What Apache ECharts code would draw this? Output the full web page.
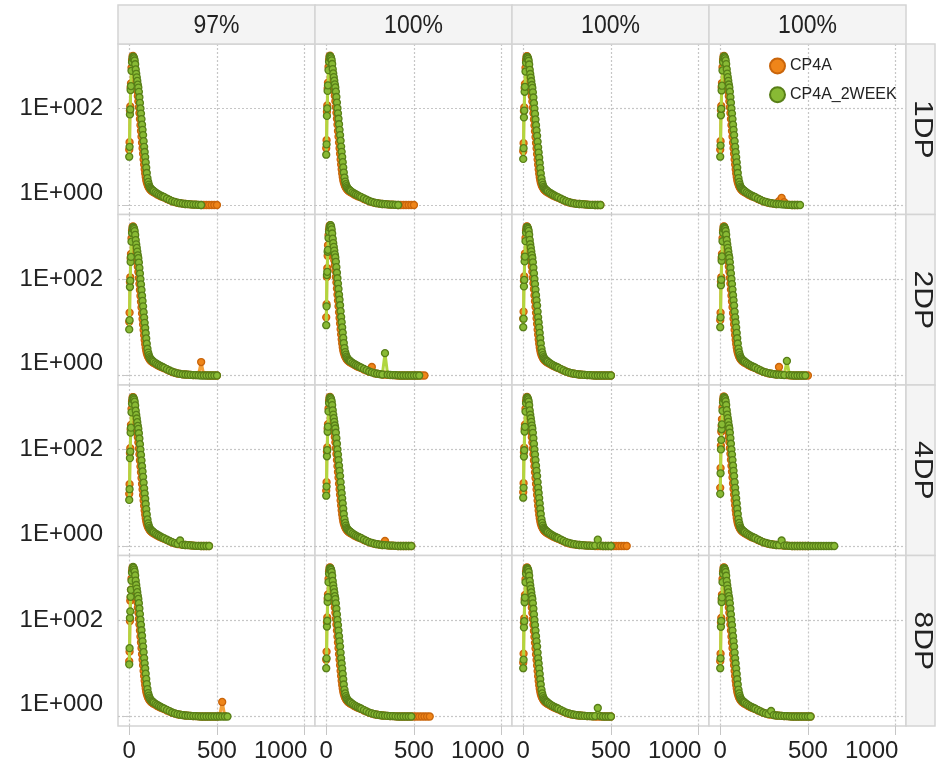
<!DOCTYPE html>
<html>
<head>
<meta charset="utf-8">
<script src="https://cdn.jsdelivr.net/npm/echarts@6/dist/echarts.min.js"></script>
<style>
html, body { margin: 0; padding: 0; background: #ffffff; }
#chart { width: 945px; height: 766px; }
</style>
</head>
<body>
<div id="chart"></div>
<script>
// Facet labels
const columnLabels = ['97%', '100%', '100%', '100%'];
const rowLabels = ['1DP', '2DP', '4DP', '8DP'];
const seriesNames = ['CP4A', 'CP4A_2WEEK'];

// Tick values
const xTickValues = [0, 500, 1000];
const yTickValues = [1, 100];

// Shared x positions (bin centres) used by every series
const bins = [0, 2, 4, 6, 8, 10,
  13, 16, 19, 22, 25, 28, 31, 34, 37, 40, 43, 46, 49, 52, 55, 58, 61, 64, 67, 70,
  73, 76, 79, 82, 85, 88, 91, 94, 97, 100,
  104, 108, 112, 116, 120, 125, 130, 135, 140,
  150, 160, 170, 180, 190, 200,
  215, 230, 245, 260, 275, 290, 305, 320, 335, 350, 365, 380, 395, 410, 425,
  440, 455, 470, 485, 500, 515, 530, 545, 560, 575, 590, 605, 620, 635, 650, 665];

// ---- 1DP ----
const cp4a_1dp_c1 = [14,20,90,110,270,330,700,1000,1200,1220,1100,940,760,580,450,360,290,230,180,140,105,80,60,45,34,26,19.5,15,11.5,8.8,6.9,5.5,4.5,3.8,3.3,2.95,2.65,2.45,2.3,2.18,2.08,2,1.94,1.88,1.83,1.74,1.65,1.58,1.52,1.47,1.42,
  1.33,1.26,1.19,1.15,1.11,1.09,1.07,1.05,1.04,1.03,1.02,1.02,1.01,1,1,1,1,1,1,1];
const week2_1dp_c1 = [10,16,75,95,240,290,600,900,1100,1180,1150,1080,980,820,640,520,440,370,310,270,220,170,130,100,78,60,46,36,28,21,16,12.5,9.8,7.6,5.9,4.6,3.6,3,2.65,2.4,2.25,2.15,2.06,2,1.93,1.82,1.72,1.64,1.57,1.5,1.45,
  1.36,1.28,1.2,1.16,1.12,1.09,1.07,1.05,1.04,1.03,1.02,1.02,1.01,1];
const cp4a_1dp_c2 = [15,22,85,115,260,340,720,1010,1210,1230,1110,950,770,590,455,365,292,232,182,141,106,81,61,46,34,26,19.6,15,11.5,8.8,6.9,5.5,4.5,3.8,3.3,2.95,2.65,2.45,2.3,2.18,2.08,2,1.94,1.88,1.83,1.74,1.65,1.58,1.52,1.47,1.42,
  1.33,1.26,1.19,1.15,1.11,1.09,1.07,1.05,1.04,1.03,1.02,1.02,1.01,1,1,1,1,1,1,1];
const week2_1dp_c2 = [11,18,70,100,230,300,620,920,1120,1200,1160,1090,990,830,650,530,445,375,315,272,222,172,132,101,79,61,47,36,28,21.5,16.2,12.6,9.9,7.7,6,4.7,3.7,3.05,2.7,2.45,2.28,2.16,2.07,2,1.94,1.83,1.73,1.65,1.58,1.51,1.46,
  1.37,1.29,1.21,1.16,1.12,1.09,1.07,1.05,1.04,1.03,1.02,1.02,1.01,1];
const cp4a_1dp_c3 = [13,19,88,105,265,320,690,990,1190,1210,1090,930,752,574,446,356,287,228,178,139,104,79,59,44,33.5,25.5,19.2,14.8,11.3,8.7,6.8,5.45,4.45,3.75,3.28,2.93,2.63,2.43,2.29,2.17,2.07,1.99,1.93,1.87,1.82,1.73,1.64,1.57,1.51,1.46,1.41,
  1.32,1.25,1.18,1.14,1.1,1.08,1.06,1.05,1.04,1.03,1.02,1.01,1.01,1,1,1];
const week2_1dp_c3 = [9,15,65,90,220,280,580,880,1090,1170,1140,1070,970,810,630,515,435,365,305,265,215,168,128,99,77,59,45,35,27,20.5,15.6,12.2,9.5,7.4,5.8,4.5,3.55,2.95,2.6,2.38,2.23,2.13,2.05,1.98,1.92,1.81,1.71,1.63,1.56,1.49,1.44,
  1.35,1.27,1.2,1.15,1.11,1.08,1.06,1.05,1.04,1.03,1.02,1.01,1.01,1,1,1];
const cp4a_1dp_c4 = [14,21,92,112,275,335,710,1005,1205,1215,1095,935,757,578,448,358,289,229,179,140,105,80,60,45,34,26,19.5,15,11.5,8.8,6.9,5.5,4.5,3.8,3.3,2.95,2.65,2.45,2.3,2.18,2.08,2,1.94,1.88,1.83,1.74,1.65,1.58,1.52,1.47,1.42,
  1.33,1.26,1.19,1.15,1.11,1.09,1.07,1.05,1.2,1.4,1.15,1.02,1.01,1,1,1];
const week2_1dp_c4 = [10,17,72,98,235,295,610,910,1110,1190,1150,1085,985,825,645,525,442,372,312,271,221,171,131,100,78,60,46,36,28,21,16,12.4,9.7,7.6,5.9,4.6,3.6,3,2.65,2.4,2.25,2.15,2.06,2,1.93,1.82,1.72,1.64,1.57,1.5,1.45,
  1.36,1.28,1.2,1.16,1.12,1.09,1.07,1.05,1.04,1.03,1.02,1.02,1.01,1,1,1,1];

// ---- 2DP ----
const cp4a_2dp_c1 = [13,20,86,108,268,328,695,995,1195,1215,1095,935,756,577,447,357,288,229,179,139,104,79,59,44.5,33.5,25.6,19.3,14.8,11.4,8.7,6.8,5.45,4.45,3.77,3.28,2.93,2.63,2.44,2.29,2.17,2.07,1.99,1.93,1.87,1.82,1.73,1.64,1.57,1.51,1.46,1.41,
  1.32,1.25,1.18,1.14,1.1,1.08,1.06,1.05,1.04,1.03,1.02,1.02,1.03,1.9,1.02,1.01,1,1,1,1];
const week2_2dp_c1 = [9,14,68,92,225,285,590,890,1100,1175,1145,1075,975,815,635,518,438,368,308,268,218,169,129,99,77,59,45,35,27,20.5,15.8,12.3,9.6,7.5,5.85,4.55,3.58,2.98,2.63,2.39,2.24,2.14,2.05,1.99,1.92,1.81,1.71,1.63,1.56,1.5,1.44,
  1.35,1.27,1.2,1.15,1.11,1.08,1.06,1.05,1.04,1.03,1.02,1.02,1.01,1,1,1,1,1,1,1];
const cp4a_2dp_c2 = [16,30,110,166,300,500,800,1050,1250,1300,1180,1000,810,615,475,380,305,242,190,147,110,84,63,47,35.5,27,20.3,15.5,11.9,9.1,7.1,5.6,4.6,3.85,3.35,3,2.68,2.47,2.32,2.2,2.1,2.02,1.95,1.89,1.84,1.75,1.66,1.58,1.52,1.47,1.42,
  1.33,1.26,1.19,1.5,1.11,1.09,1.07,1.05,1.04,1.03,1.02,1.02,1.01,1,1,1,1,1,1,1,1,1,1,1];
const week2_2dp_c2 = [11,27,120,140,365,400,700,950,1150,1250,1300,1200,1060,870,680,550,460,385,322,278,226,175,134,103,80,62,47,37,28.5,21.5,16.3,12.7,9.9,7.7,6,4.7,3.7,3.05,2.7,2.45,2.28,2.16,2.07,2,1.94,1.83,1.73,1.65,1.58,1.51,1.46,
  1.37,1.29,1.21,1.16,1.12,1.09,1.07,1.05,2.9,1.04,1.03,1.02,1.02,1.01,1,1,1,1,1,1,1,1];
const cp4a_2dp_c3 = [15,21,92,112,280,335,705,1010,1205,1225,1105,945,765,585,453,362,292,232,181,141,106,81,61,45.5,34.5,26.3,19.8,15.2,11.7,8.9,7,5.55,4.55,3.82,3.32,2.96,2.66,2.46,2.31,2.19,2.09,2.01,1.95,1.89,1.84,1.75,1.66,1.59,1.53,1.48,1.43,
  1.34,1.27,1.2,1.15,1.11,1.09,1.07,1.05,1.04,1.03,1.02,1.02,1.01,1,1,1,1,1,1,1];
const week2_2dp_c3 = [10,15,70,95,230,290,605,905,1105,1185,1152,1082,982,822,642,522,441,371,311,270,220,170,130,100,78,60,46,36,28,21,16,12.5,9.8,7.6,5.9,4.6,3.6,3,2.65,2.4,2.25,2.15,2.06,2,1.93,1.82,1.72,1.64,1.57,1.5,1.45,
  1.36,1.28,1.2,1.16,1.12,1.09,1.07,1.05,1.04,1.03,1.02,1.02,1.01,1,1,1,1,1,1,1];
const cp4a_2dp_c4 = [14,20,88,108,270,330,700,1000,1200,1220,1102,945,762,582,452,361,291,231,180,140,105,80,60,45,34,26,19.5,15,11.5,8.8,6.9,5.5,4.5,3.8,3.3,2.95,2.65,2.45,2.3,2.18,2.08,2,1.94,1.88,1.83,1.74,1.65,1.58,1.52,1.47,1.42,
  1.33,1.26,1.19,1.15,1.11,1.09,1.07,1.05,1.5,1.04,1.03,1.02,1.01,1,1,1,1,1,1,1];
const week2_2dp_c4 = [10,16,74,96,238,292,602,902,1102,1182,1150,1080,980,820,640,520,440,370,310,270,220,170,130,100,78,60,46,36,28,21,16,12.5,9.8,7.6,5.9,4.6,3.6,3,2.65,2.4,2.25,2.15,2.06,2,1.93,1.82,1.72,1.64,1.57,1.5,1.45,
  1.36,1.28,1.2,1.16,1.12,1.09,1.07,1.05,1.04,1.03,1.02,2,1.02,1.01,1,1,1,1,1];

// ---- 4DP ----
const cp4a_4dp_c1 = [12,19,84,106,262,322,690,992,1192,1212,1092,932,754,575,446,356,287,228,178,139,104,79,59,44,33.5,25.5,19.2,14.8,11.3,8.7,6.8,5.45,4.45,3.75,3.28,2.93,2.63,2.43,2.29,2.17,2.07,1.99,1.93,1.87,1.82,1.73,1.64,1.57,1.51,1.46,1.41,
  1.32,1.25,1.18,1.14,1.1,1.08,1.06,1.05,1.04,1.03,1.02,1.01,1.01,1,1,1,1];
const week2_4dp_c1 = [9,15,66,90,222,282,585,885,1095,1172,1142,1072,972,812,632,516,436,366,306,266,216,168,128,99,77,59,45,35,27,20.5,15.6,12.2,9.5,7.4,5.8,4.5,3.55,2.95,2.6,2.38,2.23,2.13,2.05,1.98,1.92,1.81,1.71,1.63,1.56,1.49,1.44,
  1.35,1.27,1.2,1.15,1.11,1.3,1.06,1.05,1.04,1.03,1.02,1.01,1.01,1,1,1,1];
const cp4a_4dp_c2 = [14,21,90,110,272,332,702,1002,1202,1222,1102,942,762,582,451,361,291,231,180,140,105,80,60,45,34,26,19.5,15,11.5,8.8,6.9,5.5,4.5,3.8,3.3,2.95,2.65,2.45,2.3,2.18,2.08,2,1.94,1.88,1.83,1.74,1.65,1.58,1.52,1.47,1.42,
  1.33,1.26,1.19,1.15,1.11,1.09,1.07,1.05,1.27,1.03,1.02,1.02,1.01,1,1,1,1,1,1];
const week2_4dp_c2 = [11,17,72,97,232,296,612,912,1112,1192,1155,1085,985,825,645,525,442,372,312,271,221,171,131,100,78,60,46,36,28,21,16,12.4,9.7,7.6,5.9,4.6,3.6,3,2.65,2.4,2.25,2.15,2.06,2,1.93,1.82,1.72,1.64,1.57,1.5,1.45,
  1.36,1.28,1.2,1.16,1.12,1.09,1.07,1.05,1.04,1.03,1.02,1.02,1.01,1,1,1,1,1,1];
const cp4a_4dp_c3 = [13,20,87,108,266,326,696,996,1196,1216,1096,936,757,578,448,358,288,229,179,139,104,79,59,44.5,33.5,25.6,19.3,14.8,11.4,8.7,6.8,5.45,4.45,3.77,3.28,2.93,2.63,2.44,2.29,2.17,2.07,1.99,1.93,1.87,1.82,1.73,1.64,1.57,1.51,1.46,1.41,
  1.32,1.25,1.18,1.14,1.1,1.08,1.06,1.05,1.04,1.03,1.02,1.02,1.01,1,1,1,1,1,1,1,1,1,1,1,1,1];
const week2_4dp_c3 = [10,16,71,96,234,293,606,906,1106,1186,1151,1081,981,821,641,521,441,371,311,270,220,170,130,100,78,60,46,36,28,21,16,12.5,9.8,7.6,5.9,4.6,3.6,3,2.65,2.4,2.25,2.15,2.06,2,1.93,1.82,1.72,1.64,1.57,1.5,1.45,
  1.36,1.28,1.2,1.16,1.12,1.09,1.07,1.05,1.04,1.03,1.02,1.02,1.01,1.02,1.35,1.02,1,1,1,1];
const cp4a_4dp_c4 = [16,41,120,232,310,420,740,1040,1230,1240,1115,950,768,588,456,364,293,232,181,141,106,81,61,45.5,34.5,26.2,19.7,15.1,11.6,8.9,7,5.55,4.55,3.82,3.32,2.96,2.66,2.46,2.31,2.19,2.09,2.01,1.95,1.89,1.84,1.75,1.66,1.58,1.52,1.47,1.42,
  1.33,1.26,1.19,1.15,1.11,1.09,1.07,1.05,1.04,1.03,1.02,1.02,1.01,1,1,1,1,1,1,1];
const week2_4dp_c4 = [12,32,100,157,260,330,630,930,1130,1210,1170,1095,992,830,648,527,443,373,313,271,221,171,131,100,78,60,46,36,28,21,16,12.4,9.7,7.6,5.9,4.6,3.6,3,2.65,2.4,2.25,2.15,2.06,2,1.93,1.82,1.72,1.64,1.57,1.5,1.45,
  1.36,1.28,1.2,1.16,1.12,1.09,1.07,1.05,1.04,1.3,1.02,1.02,1.01,1,1,1,1,1,1,1,1,1,1,1,1,1,1,1,1,1];

// ---- 8DP ----
const cp4a_8dp_c1 = [14,22,95,250,290,420,720,1020,1220,1240,1115,948,766,586,454,362,291,231,180,140,105,80,60,45,34,26,19.5,15,11.5,8.8,6.9,5.5,4.5,3.8,3.3,2.95,2.65,2.45,2.3,2.18,2.08,2,1.94,1.88,1.83,1.74,1.65,1.58,1.52,1.47,1.42,
  1.33,1.26,1.19,1.15,1.11,1.09,1.07,1.05,1.04,1.03,1.02,1.02,1.01,1,1,1,1,1,1,1,1.02,2,1.02];
const week2_8dp_c1 = [12,26,110,150,300,420,650,950,1150,1250,1190,1100,995,832,650,528,444,374,314,272,222,172,132,101,79,61,47,36,28,21.5,16.2,12.6,9.9,7.7,6,4.7,3.7,3.05,2.7,2.45,2.28,2.16,2.07,2,1.94,1.83,1.73,1.65,1.58,1.51,1.46,
  1.37,1.29,1.21,1.16,1.12,1.09,1.07,1.05,1.04,1.03,1.02,1.02,1.01,1,1,1,1,1,1,1,1,1,1,1];
const cp4a_8dp_c2 = [15,22,90,112,275,336,708,1006,1206,1222,1104,943,763,583,452,361,291,231,180,140,105,80,60,45,34,26,19.5,15,11.5,8.8,6.9,5.5,4.5,3.8,3.3,2.95,2.65,2.45,2.3,2.18,2.08,2,1.94,1.88,1.83,1.74,1.65,1.58,1.52,1.47,1.42,
  1.33,1.26,1.19,1.15,1.11,1.09,1.07,1.05,1.04,1.03,1.02,1.02,1.01,1,1,1,1,1,1,1,1,1,1,1,1,1];
const week2_8dp_c2 = [10,16,73,96,236,294,605,905,1105,1185,1150,1080,980,820,640,520,440,370,310,270,220,170,130,100,78,60,46,36,28,21,16,12.5,9.8,7.6,5.9,4.6,3.6,3,2.65,2.4,2.25,2.15,2.06,2,1.93,1.82,1.72,1.64,1.57,1.5,1.45,
  1.36,1.28,1.2,1.16,1.12,1.09,1.07,1.05,1.04,1.03,1.02,1.02,1.01,1,1,1,1,1,1];
const cp4a_8dp_c3 = [13,20,88,108,268,328,698,998,1198,1218,1098,938,758,579,449,358,288,229,179,139,104,79,59,44.5,33.5,25.6,19.3,14.8,11.4,8.7,6.8,5.45,4.45,3.77,3.28,2.93,2.63,2.44,2.29,2.17,2.07,1.99,1.93,1.87,1.82,1.73,1.64,1.57,1.51,1.46,1.41,
  1.32,1.25,1.18,1.14,1.1,1.08,1.06,1.05,1.04,1.03,1.02,1.02,1.01,1,1,1,1,1,1,1];
const week2_8dp_c3 = [10,15,70,94,232,290,602,902,1102,1182,1150,1080,980,820,640,520,440,370,310,270,220,170,130,100,78,60,46,36,28,21,16,12.5,9.8,7.6,5.9,4.6,3.6,3,2.65,2.4,2.25,2.15,2.06,2,1.93,1.82,1.72,1.64,1.57,1.5,1.45,
  1.36,1.28,1.2,1.16,1.12,1.09,1.07,1.05,1.04,1.03,1.02,1.02,1.01,1.02,1.5,1.02,1,1,1,1];
const cp4a_8dp_c4 = [14,20,89,110,271,331,701,1001,1201,1221,1101,941,761,581,451,360,290,230,180,140,105,80,60,45,34,26,19.5,15,11.5,8.8,6.9,5.5,4.5,3.8,3.3,2.95,2.65,2.45,2.3,2.18,2.08,2,1.94,1.88,1.83,1.74,1.65,1.58,1.52,1.47,1.42,
  1.33,1.26,1.19,1.15,1.11,1.09,1.07,1.05,1.04,1.03,1.02,1.02,1.01,1,1,1,1,1,1,1,1];
const week2_8dp_c4 = [10,16,72,95,234,292,604,904,1104,1184,1150,1080,980,820,640,520,440,370,310,270,220,170,130,100,78,60,46,36,28,21,16,12.5,9.8,7.6,5.9,4.6,3.6,3,2.65,2.4,2.25,2.15,2.06,2,1.93,1.82,1.72,1.64,1.57,1.5,1.45,
  1.36,1.28,1.2,1.16,1.12,1.3,1.07,1.05,1.04,1.03,1.02,1.02,1.01,1,1,1,1,1,1,1,1];

// Panel layout: rows follow rowLabels, columns follow columnLabels
const panelValues = [
  [[cp4a_1dp_c1, week2_1dp_c1], [cp4a_1dp_c2, week2_1dp_c2], [cp4a_1dp_c3, week2_1dp_c3], [cp4a_1dp_c4, week2_1dp_c4]],
  [[cp4a_2dp_c1, week2_2dp_c1], [cp4a_2dp_c2, week2_2dp_c2], [cp4a_2dp_c3, week2_2dp_c3], [cp4a_2dp_c4, week2_2dp_c4]],
  [[cp4a_4dp_c1, week2_4dp_c1], [cp4a_4dp_c2, week2_4dp_c2], [cp4a_4dp_c3, week2_4dp_c3], [cp4a_4dp_c4, week2_4dp_c4]],
  [[cp4a_8dp_c1, week2_8dp_c1], [cp4a_8dp_c2, week2_8dp_c2], [cp4a_8dp_c3, week2_8dp_c3], [cp4a_8dp_c4, week2_8dp_c4]]
];

// Geometry and styling
const PANEL_LEFT = 118, PANEL_TOP = 44, PANEL_W = 197, PANEL_H = 170.5;
const STRIP_TOP = 5, STRIP_RIGHT_W = 29;
const X_MIN = -64, X_MAX = 1059;
const Y_MIN = 0.636, Y_MAX = 2153;
const BORDER = '#d4d4d4';
const STRIP_FILL = '#f4f4f4';
const GRIDLINE = '#c6c6c6';
const TEXT = '#222222';
const LABEL_FONT = "'Liberation Sans', Arial, sans-serif";
const LABEL_SIZE = 24;
const seriesStyles = [
  { fill: '#ef8519', border: '#c9650b', line: '#f5a03a' },
  { fill: '#88ba34', border: '#587f18', line: '#b0d63f' }
];

function yLabel(v) {
  const e = Math.round(Math.log10(v));
  const s = '1E+' + String(e).padStart(3, '0');
  return e === 0 ? '{low|' + s + '}' : s;
}
function xLabel(v) {
  return v === xTickValues[xTickValues.length - 1] ? '{last|' + v + '}' : String(v);
}

const grids = [], xAxes = [], yAxes = [], series = [], graphics = [];

rowLabels.forEach((rowLabel, r) => {
  columnLabels.forEach((colLabel, c) => {
    const k = r * columnLabels.length + c;
    grids.push({
      left: PANEL_LEFT + c * PANEL_W, top: PANEL_TOP + r * PANEL_H,
      width: PANEL_W, height: PANEL_H,
      show: true, backgroundColor: '#ffffff', borderColor: BORDER, borderWidth: 1.5,
      containLabel: false, outerBoundsMode: 'none'
    });
    xAxes.push({
      type: 'value', gridIndex: k, min: X_MIN, max: X_MAX,
      axisLine: { show: false },
      axisTick: { show: r === rowLabels.length - 1, customValues: xTickValues, length: 9, lineStyle: { color: GRIDLINE, width: 1 } },
      axisLabel: {
        show: r === rowLabels.length - 1, customValues: xTickValues, formatter: xLabel,
        fontFamily: LABEL_FONT, fontSize: LABEL_SIZE, color: TEXT, margin: 13,
        rich: { last: { fontFamily: LABEL_FONT, fontSize: LABEL_SIZE, color: TEXT, padding: [0, 48, 0, 0] } }
      },
      splitLine: { show: true, lineStyle: { color: GRIDLINE, type: [2, 2], width: 1.2 } }
    });
    yAxes.push({
      type: 'log', logBase: 10, gridIndex: k, min: Y_MIN, max: Y_MAX,
      axisLine: { show: false },
      axisTick: { show: c === 0, customValues: yTickValues, length: 6, lineStyle: { color: GRIDLINE, width: 1 } },
      axisLabel: {
        show: c === 0, customValues: yTickValues, formatter: yLabel,
        fontFamily: LABEL_FONT, fontSize: LABEL_SIZE, color: TEXT, margin: 15,
        rich: { low: { fontFamily: LABEL_FONT, fontSize: LABEL_SIZE, color: TEXT, padding: [0, 0, 24, 0] } }
      },
      splitLine: { show: true, lineStyle: { color: GRIDLINE, type: [2, 2], width: 1.2 } }
    });
    panelValues[r][c].forEach((ys, s) => {
      const st = seriesStyles[s];
      series.push({
        name: seriesNames[s], type: 'line', xAxisIndex: k, yAxisIndex: k,
        data: ys.map((y, i) => [bins[i], y]),
        symbol: 'circle', symbolSize: 7, showSymbol: true, showAllSymbol: true,
        lineStyle: { color: st.line, width: 3 },
        itemStyle: { color: st.fill, borderColor: st.border, borderWidth: 1.3 },
        emphasis: { disabled: true }, silent: true, animation: false, z: 2 + s
      });
    });
  });
});

// Column strips along the top
columnLabels.forEach((label, c) => {
  graphics.push({
    type: 'rect', silent: true, z: 5,
    shape: { x: PANEL_LEFT + c * PANEL_W, y: STRIP_TOP, width: PANEL_W, height: PANEL_TOP - STRIP_TOP },
    style: { fill: STRIP_FILL, stroke: BORDER, lineWidth: 1.5 }
  });
  graphics.push({
    type: 'text', silent: true, z: 6,
    x: PANEL_LEFT + c * PANEL_W + PANEL_W / 2, y: (STRIP_TOP + PANEL_TOP) / 2 + 1,
    scaleY: 1.15,
    style: { text: label, fontFamily: LABEL_FONT, fontSize: 23, fill: TEXT, align: 'center', verticalAlign: 'middle' }
  });
});

// Row strips along the right side
const stripX = PANEL_LEFT + columnLabels.length * PANEL_W;
rowLabels.forEach((label, r) => {
  graphics.push({
    type: 'rect', silent: true, z: 5,
    shape: { x: stripX, y: PANEL_TOP + r * PANEL_H, width: STRIP_RIGHT_W, height: PANEL_H },
    style: { fill: STRIP_FILL, stroke: BORDER, lineWidth: 1.5 }
  });
  graphics.push({
    type: 'text', silent: true, z: 6,
    x: stripX + STRIP_RIGHT_W / 2 + 1, y: PANEL_TOP + r * PANEL_H + PANEL_H / 2,
    rotation: -Math.PI / 2, scaleX: 1.2,
    style: { text: label, fontFamily: LABEL_FONT, fontSize: 25, fill: TEXT, align: 'center', verticalAlign: 'middle' }
  });
});

const chart = echarts.init(document.getElementById('chart'), null, { renderer: 'canvas' });
chart.setOption({
  animation: false,
  backgroundColor: '#ffffff',
  textStyle: { fontFamily: LABEL_FONT },
  legend: {
    data: seriesNames, orient: 'vertical', left: 769, top: 57.5, padding: 0,
    icon: 'circle', itemWidth: 15, itemHeight: 15, itemGap: 11.7,
    textStyle: { fontFamily: LABEL_FONT, fontSize: 16, lineHeight: 15, color: TEXT },
    selectedMode: false
  },
  grid: grids,
  xAxis: xAxes,
  yAxis: yAxes,
  series: series,
  graphic: graphics
});
</script>
</body>
</html>
